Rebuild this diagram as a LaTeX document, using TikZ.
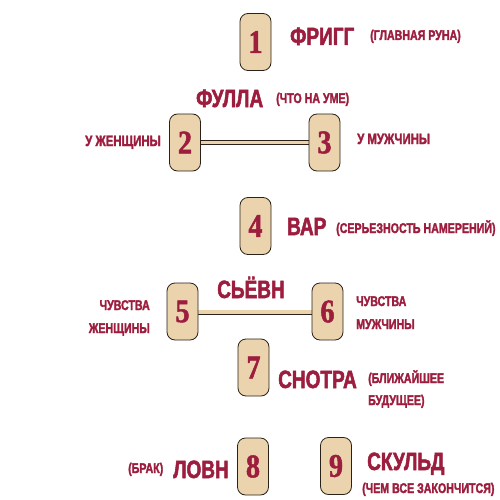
\documentclass[tikz,border=0pt]{standalone}
\usepackage{fontspec}
\newfontfamily\runefont[FakeStretch=0.76, FakeBold=2]{Liberation Sans}
\newfontfamily\digitfont[FakeStretch=0.85, FakeBold=1.5]{Liberation Serif}
\definecolor{runered}{HTML}{9C1D3D}
\definecolor{runefill}{HTML}{EBD3AE}
\definecolor{runeedge}{HTML}{2A2218}

\begin{document}
\begin{tikzpicture}[x=1pt, y=-1pt,
    rune/.style={draw=runeedge, line width=0.8pt, fill=runefill, rounded corners=8pt,
        minimum width=31pt, minimum height=57pt, inner sep=0pt, text=runered,
        font=\digitfont\bfseries\fontsize{33}{33}\selectfont},
    bigname/.style={text=runered, inner sep=0pt, anchor=base west,
        font=\runefont\bfseries\fontsize{25}{25}\selectfont},
    note/.style={text=runered, inner sep=0pt, anchor=base west,
        font=\runefont\bfseries\fontsize{14}{14}\selectfont},
    link/.style={draw=runeedge, line width=0.8pt, double=runefill, double distance=3.4pt}]
    \useasboundingbox (0,0) rectangle (500,500);

    % Links
    \coordinate (l2) at (200,142.5);
    \coordinate (l3) at (310,142.5);
    \coordinate (l5) at (197,312);
    \coordinate (l6) at (313,312);
    \draw[link] (l2) -- (l3);
    \draw[link] (l5) -- (l6);

    % Runes
    \node[rune] (r1) at (255.5, 42) {1};
    \node[rune] (r2) at (185, 142.5) {2};
    \node[rune] (r3) at (324.5, 142.5) {3};
    \node[rune] (r4) at (255.5, 226) {4};
    \node[rune] (r5) at (182.5, 311.5) {5};
    \node[rune] (r6) at (327.5, 311.5) {6};
    \node[rune] (r7) at (253.5, 367.5) {7};
    \node[rune] (r8) at (253, 466.5) {8};
    \node[rune] (r9) at (336, 466) {9};

    % Frigg
    \node[bigname] (frigg) at (290, 45) {ФРИГГ};
    \node[note] (friggnote) at (370, 40) {(ГЛАВНАЯ РУНА)};

    % Fulla
    \node[bigname] (fulla) at (196, 107) {ФУЛЛА};
    \node[note] (fullanote) at (276, 103) {(ЧТО НА УМЕ)};
    \node[note, anchor=base east, font=\runefont\bfseries\fontsize{15}{15}\selectfont] (woman) at (161, 146) {У ЖЕНЩИНЫ};
    \node[note, font=\runefont\bfseries\fontsize{15}{15}\selectfont] (man) at (357, 144) {У МУЖЧИНЫ};

    % Var
    \node[bigname] (var) at (287, 235) {ВАР};
    \node[note] (varnote) at (336, 233) {(СЕРЬЕЗНОСТЬ НАМЕРЕНИЙ)};

    % Sjofn
    \node[bigname, anchor=base, font=\runefont\bfseries\fontsize{25}{25}\selectfont] (sjofn) at (251, 298) {СЬЁВН};
    \node[note, anchor=base east] (feelw) at (150, 310) {ЧУВСТВА};
    \node[note, anchor=base east] (feelwb) at ([yshift=-23pt]feelw.base east) {ЖЕНЩИНЫ};
    \node[note] (feelm) at (356, 306) {ЧУВСТВА};
    \node[note] (feelmb) at ([yshift=-23pt]feelm.base west) {МУЖЧИНЫ};

    % Snotra
    \node[bigname] (snotra) at (278, 388) {СНОТРА};
    \node[note] (snotranote) at (368, 383) {(БЛИЖАЙШЕЕ};
    \node[note] (snotranoteb) at ([yshift=-22pt]snotranote.base west) {БУДУЩЕЕ)};

    % Lofn
    \node[note] (lofnnote) at (128, 473) {(БРАК)};
    \node[bigname] (lofn) at (173, 478) {ЛОВН};

    % Skuld
    \node[bigname] (skuld) at (367, 470) {СКУЛЬД};
    \node[note] (skuldnote) at (362, 493) {(ЧЕМ ВСЕ ЗАКОНЧИТСЯ)};
\end{tikzpicture}
\end{document}
